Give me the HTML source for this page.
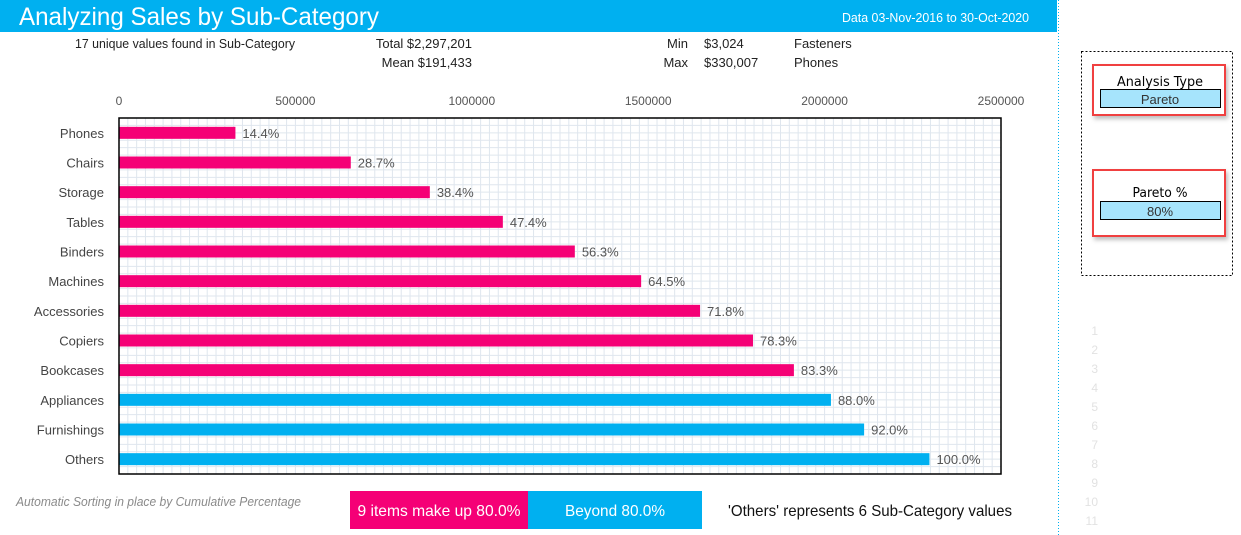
<!DOCTYPE html>
<html><head><meta charset="utf-8"><style>
html,body{margin:0;padding:0;background:#fff;}
svg{display:block;font-family:"Liberation Sans Narrow","Liberation Sans",sans-serif;}
</style></head><body>
<svg id="c" width="1241" height="535" xmlns="http://www.w3.org/2000/svg">
<defs>
<filter id="sh" x="-10%" y="-20%" width="130%" height="150%"><feDropShadow dx="2" dy="3" stdDeviation="2" flood-color="#000" flood-opacity="0.25"/></filter>
</defs>
<rect x="0" y="0" width="1057" height="32" fill="#00b0f0"/>
<text x="19" y="25" font-size="25" fill="#fff" textLength="360" lengthAdjust="spacingAndGlyphs">Analyzing Sales by Sub-Category</text>
<text x="1029" y="22" font-size="13" fill="#fff" text-anchor="end" textLength="187" lengthAdjust="spacingAndGlyphs">Data 03-Nov-2016 to 30-Oct-2020</text>
<line x1="1058.5" y1="0" x2="1058.5" y2="535" stroke="#00b0f0" stroke-dasharray="1,2"/>
<g font-size="13" fill="#222">
<text x="75" y="48" textLength="220" lengthAdjust="spacingAndGlyphs">17 unique values found in Sub-Category</text>
<text x="472" y="48" text-anchor="end">Total $2,297,201</text>
<text x="472" y="67" text-anchor="end">Mean $191,433</text>
<text x="688" y="48" text-anchor="end">Min</text>
<text x="704" y="48">$3,024</text>
<text x="794" y="48">Fasteners</text>
<text x="688" y="67" text-anchor="end">Max</text>
<text x="704" y="67">$330,007</text>
<text x="794" y="67">Phones</text>
</g>
<g id="grid"></g>
<g id="axis"></g>
<g id="bars"></g>
<rect x="119" y="118" width="882" height="356" fill="none" stroke="#000" stroke-width="1.5"/>
<text x="16" y="506" font-size="12.5" fill="#8a8a8a" font-style="italic" textLength="285" lengthAdjust="spacingAndGlyphs">Automatic Sorting in place by Cumulative Percentage</text>
<rect x="350" y="491" width="178" height="38" fill="#f50076"/>
<text x="439" y="516" font-size="16" fill="#fff" text-anchor="middle" textLength="163" lengthAdjust="spacingAndGlyphs">9 items make up 80.0%</text>
<rect x="528" y="491" width="174" height="38" fill="#00b0f0"/>
<text x="615" y="516" font-size="16" fill="#fff" text-anchor="middle" textLength="100" lengthAdjust="spacingAndGlyphs">Beyond 80.0%</text>
<text x="728" y="516" font-size="16" fill="#111" textLength="284" lengthAdjust="spacingAndGlyphs">'Others' represents 6 Sub-Category values</text>
<rect x="1081.5" y="51.5" width="151" height="224" fill="none" stroke="#000" stroke-dasharray="2,2"/>
<g filter="url(#sh)">
<rect x="1093" y="65" width="132" height="50" fill="#fff" stroke="#f04040" stroke-width="2"/>
<rect x="1093" y="170" width="132" height="66" fill="#fff" stroke="#f04040" stroke-width="2"/>
</g>
<text x="1160" y="86" font-size="13" fill="#000" text-anchor="middle" font-family="DejaVu Sans Condensed,DejaVu Sans,sans-serif" textLength="86" lengthAdjust="spacingAndGlyphs">Analysis Type</text>
<rect x="1100.5" y="89.5" width="120" height="18" fill="#a6e4fc" stroke="#000"/>
<text x="1160" y="104" font-size="13" fill="#333" text-anchor="middle">Pareto</text>
<text x="1160" y="197" font-size="13" fill="#000" text-anchor="middle" font-family="DejaVu Sans Condensed,DejaVu Sans,sans-serif" textLength="55" lengthAdjust="spacingAndGlyphs">Pareto %</text>
<rect x="1100.5" y="201.5" width="120" height="18" fill="#a6e4fc" stroke="#000"/>
<text x="1160" y="216" font-size="13" fill="#333" text-anchor="middle">80%</text>
<g id="rownums" font-size="12" fill="#e2e2e2" text-anchor="end"></g>
</svg>
<script>
const categories=["Phones","Chairs","Storage","Tables","Binders","Machines","Accessories","Copiers","Bookcases","Appliances","Furnishings","Others"];
const cumulativeSales=[330007,657000,881000,1088000,1292000,1480000,1647000,1797000,1913000,2018000,2112000,2297201];
const cumulativePct=["14.4%","28.7%","38.4%","47.4%","56.3%","64.5%","71.8%","78.3%","83.3%","88.0%","92.0%","100.0%"];
const inPareto=[true,true,true,true,true,true,true,true,true,false,false,false];
const xTicks=[0,500000,1000000,1500000,2000000,2500000];
const NS="http://www.w3.org/2000/svg";
const X0=119,X1=1001,Y0=118,Y1=474,XMAX=2500000;
function xs(v){return X0+(v/XMAX)*(X1-X0);}
const band=(Y1-Y0)/categories.length;
function yc(i){return Y0+band*(i+0.5);}
function mk(tag,attrs,parent){const e=document.createElementNS(NS,tag);for(const k in attrs)e.setAttribute(k,attrs[k]);parent.appendChild(e);return e;}
const grid=document.getElementById('grid'),axis=document.getElementById('axis'),bars=document.getElementById('bars');
for(let v=25000;v<XMAX;v+=25000){const l=mk('line',{x1:xs(v),x2:xs(v),y1:Y0,y2:Y1,stroke:'#dfe6ee','stroke-width':1},grid);

}
for(let k=1;k<categories.length*4;k++){const y=Y0+band*k/4;const l=mk('line',{x1:X0,x2:X1,y1:y,y2:y,stroke:'#dfe6ee','stroke-width':1},grid);

}
xTicks.forEach(v=>{const t=mk('text',{x:xs(v),y:105,'font-size':12,fill:'#555','text-anchor':'middle'},axis);t.textContent=v;

});
categories.forEach((c,i)=>{
const t=mk('text',{x:104,y:yc(i)+5,'font-size':13,fill:'#444','text-anchor':'end'},axis);t.textContent=c;


const r=mk('rect',{x:X0,y:yc(i)-6,width:xs(cumulativeSales[i])-X0,height:12,fill:inPareto[i]?'#f50076':'#00b0f0'},bars);


const p=mk('text',{x:xs(cumulativeSales[i])+7,y:yc(i)+5,'font-size':13,fill:'#555'},bars);p.textContent=cumulativePct[i];


});
const rn=document.getElementById('rownums');
for(let n=1;n<=12;n++){const t=mk('text',{x:1098,y:335+(n-1)*19},rn);t.textContent=n;

}
</script>
</body></html>
